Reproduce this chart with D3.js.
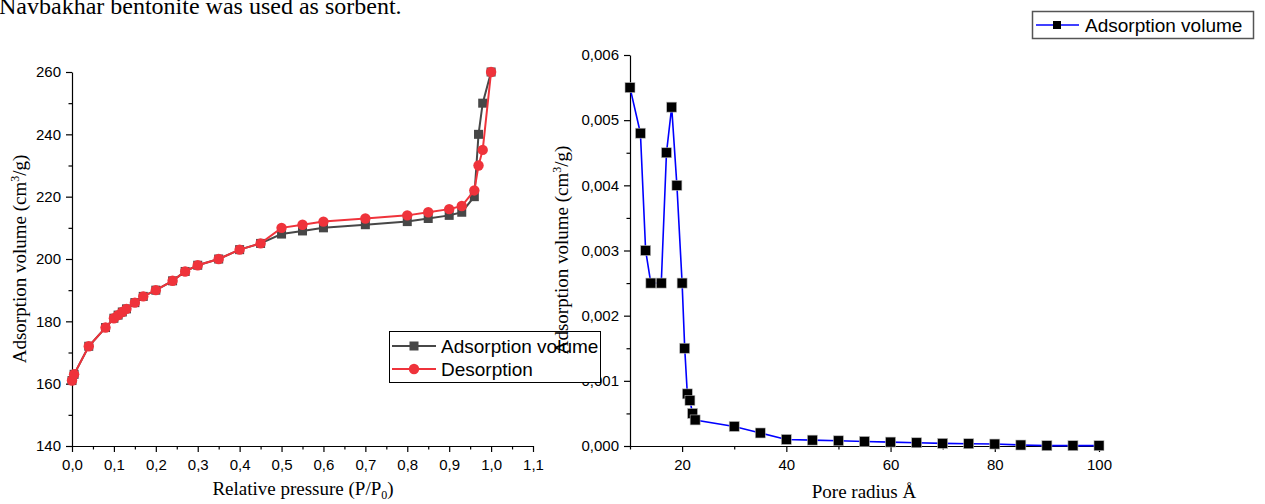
<!DOCTYPE html>
<html>
<head>
<meta charset="utf-8">
<script src="https://cdn.jsdelivr.net/npm/d3@7"></script>
<style>
  body { margin: 0; background: #fff; }
  svg { display: block; }
  .tick text { font-family: "Liberation Sans", Arial, sans-serif; font-size: 15px; fill: #000; }
  .domain, .tick line { stroke: #000; stroke-width: 1.2; }
  .title { font-family: "Liberation Serif", "Times New Roman", serif; font-size: 19px; fill: #000; }
  .leg { font-family: "Liberation Sans", Arial, sans-serif; font-size: 19px; fill: #000; }
</style>
</head>
<body>
<script>
// isotherm data (left chart)
var pressure = [0.0, 0.005, 0.04, 0.08, 0.10, 0.11, 0.12, 0.13, 0.15, 0.17, 0.20, 0.24, 0.27, 0.30, 0.35, 0.40, 0.45,
                0.50, 0.55, 0.60, 0.70, 0.80, 0.85, 0.90, 0.93, 0.96, 0.97, 0.98, 1.0];
var adsorption = [161, 163, 172, 178, 181, 182, 183, 184, 186, 188, 190, 193, 196, 198, 200, 203, 205,
                  208, 209, 210, 211, 212, 213, 214, 215, 220, 240, 250, 260];
var desorption = [161, 163, 172, 178, 181, 182, 183, 184, 186, 188, 190, 193, 196, 198, 200, 203, 205,
                  210, 211, 212, 213, 214, 215, 216, 217, 222, 230, 235, 260];

// pore distribution (right chart)
var radius = [10, 12, 13, 14, 16, 17, 18, 19, 20, 20.5, 21, 21.5, 22, 22.5, 30, 35, 40, 45, 50, 55, 60,
              65, 70, 75, 80, 85, 90, 95, 100];
var poreVolume = [0.0055, 0.0048, 0.0030, 0.0025, 0.0025, 0.0045, 0.0052, 0.0040, 0.0025, 0.0015, 0.0008, 0.0007,
                  0.0005, 0.0004, 0.0003, 0.0002, 0.0001, 0.00009, 0.00008, 0.00007, 0.00006, 0.00005, 0.00004,
                  0.000035, 0.00003, 0.000015, 0.000005, 0.000005, 0.000005];

var legendLeft = ["Adsorption volume", "Desorption"];
var legendRight = ["Adsorption volume"];

var comma = function(f) { return function(v) { return d3.format(f)(v).replace(".", ","); }; };

var svg = d3.select("body").append("svg")
    .attr("width", 1265)
    .attr("height", 504);

// caption line cut at the top
svg.append("text")
    .attr("x", -1).attr("y", 14)
    .attr("font-family", "Liberation Serif, Times New Roman, serif")
    .attr("font-size", 24)
    .text("Navbakhar bentonite was used as sorbent.");

function minorAxis(g, axis) { g.call(axis); g.selectAll("text").remove(); g.select(".domain").remove(); }

function yTitle(x, y) {
  svg.append("text").attr("class", "title")
      .attr("transform", "translate(" + x + "," + y + ") rotate(-90)")
      .attr("text-anchor", "middle")
      .call(function(t) {
        t.append("tspan").text("Adsorption volume (cm");
        t.append("tspan").attr("font-size", 12).attr("dy", -7).text("3");
        t.append("tspan").attr("dy", 7).text("/g)");
      });
}

// ---------- left chart ----------
var x1 = d3.scaleLinear().domain([0, 1.1]).range([72, 533]);
var y1 = d3.scaleLinear().domain([140, 260]).range([446, 72]);

svg.append("g").attr("transform", "translate(0,446)")
    .call(minorAxis, d3.axisBottom(x1).tickValues(d3.range(0.05, 1.1, 0.1)).tickSize(3.5));
svg.append("g").attr("transform", "translate(0,446)")
    .call(d3.axisBottom(x1).tickValues(d3.range(0, 1.11, 0.1)).tickFormat(comma(".1f")).tickSize(6).tickSizeOuter(0).tickPadding(7));
svg.append("g").attr("transform", "translate(72,0)")
    .call(minorAxis, d3.axisLeft(y1).tickValues(d3.range(150, 260, 20)).tickSize(3.5));
svg.append("g").attr("transform", "translate(72,0)")
    .call(d3.axisLeft(y1).tickValues(d3.range(140, 261, 20)).tickSize(6).tickSizeOuter(0).tickPadding(5));

var line1 = d3.line().x(function(d) { return x1(d[0]); }).y(function(d) { return y1(d[1]); });
var adsData = pressure.map(function(p, i) { return [p, adsorption[i]]; });
var desData = pressure.map(function(p, i) { return [p, desorption[i]]; });

var grey = "#474747", red = "#ef333b";
svg.append("path").datum(adsData).attr("d", line1)
    .attr("fill", "none").attr("stroke", grey).attr("stroke-width", 2);
svg.append("g").selectAll("rect").data(adsData).enter().append("rect")
    .attr("x", function(d) { return x1(d[0]) - 4.5; })
    .attr("y", function(d) { return y1(d[1]) - 4.5; })
    .attr("width", 9).attr("height", 9).attr("fill", grey);
svg.append("path").datum(desData).attr("d", line1)
    .attr("fill", "none").attr("stroke", red).attr("stroke-width", 2);
svg.append("g").selectAll("circle").data(desData).enter().append("circle")
    .attr("cx", function(d) { return x1(d[0]); })
    .attr("cy", function(d) { return y1(d[1]); })
    .attr("r", 5.2).attr("fill", red);

yTitle(26, 259);
svg.append("text").attr("class", "title")
    .attr("x", 303).attr("y", 495).attr("text-anchor", "middle")
    .call(function(t) {
      t.append("tspan").text("Relative pressure (P/P");
      t.append("tspan").attr("font-size", 12).attr("dy", 4).text("0");
      t.append("tspan").attr("dy", -4).text(")");
    });

// ---------- right chart ----------
var x2 = d3.scaleLinear().domain([10, 100]).range([630, 1099]);
var y2 = d3.scaleLinear().domain([0, 0.006]).range([446, 55]);

svg.append("g").attr("transform", "translate(0,446)")
    .call(minorAxis, d3.axisBottom(x2).tickValues(d3.range(10, 100, 20)).tickSize(3.5));
svg.append("g").attr("transform", "translate(0,446)")
    .call(d3.axisBottom(x2).tickValues(d3.range(20, 101, 20)).tickSize(6).tickSizeOuter(0).tickPadding(7));
svg.append("g").attr("transform", "translate(630,0)")
    .call(minorAxis, d3.axisLeft(y2).tickValues(d3.range(0.0005, 0.006, 0.001)).tickSize(3.5));
svg.append("g").attr("transform", "translate(630,0)")
    .call(d3.axisLeft(y2).tickValues(d3.range(0, 0.00601, 0.001)).tickFormat(comma(".3f")).tickSize(6).tickSizeOuter(0).tickPadding(5));

var poreData = radius.map(function(r, i) { return [r, poreVolume[i]]; });
var line2 = d3.line().x(function(d) { return x2(d[0]); }).y(function(d) { return y2(d[1]); });
svg.append("path").datum(poreData).attr("d", line2)
    .attr("fill", "none").attr("stroke", "#0000ff").attr("stroke-width", 1.6);
svg.append("g").selectAll("rect").data(poreData).enter().append("rect")
    .attr("x", function(d) { return x2(d[0]) - 5; })
    .attr("y", function(d) { return y2(d[1]) - 5; })
    .attr("width", 10).attr("height", 10).attr("fill", "#000")
    .attr("stroke", "#bbb").attr("stroke-width", 0.6);

svg.append("text").attr("class", "title")
    .attr("x", 864).attr("y", 498).attr("text-anchor", "middle")
    .text("Pore radius \u00C5");

// ---------- legends ----------
var lg = svg.append("g");
lg.append("rect").attr("x", 389.5).attr("y", 331.5).attr("width", 211).attr("height", 51)
    .attr("fill", "#fff").attr("stroke", "#000").attr("stroke-width", 1);
legendLeft.forEach(function(name, i) {
  var yy = 346 + i * 23, c = i === 0 ? grey : red;
  lg.append("line").attr("x1", 392).attr("x2", 436).attr("y1", yy).attr("y2", yy)
      .attr("stroke", c).attr("stroke-width", 2);
  if (i === 0) lg.append("rect").attr("x", 409.5).attr("y", yy - 4.5).attr("width", 9).attr("height", 9).attr("fill", c);
  else lg.append("circle").attr("cx", 414).attr("cy", yy).attr("r", 5.2).attr("fill", c);
  lg.append("text").attr("class", "leg").attr("x", 441).attr("y", yy + 7).text(name);
});

// right axis title drawn over the left legend box, as in the original
yTitle(568, 250);

var rg = svg.append("g");
rg.append("rect").attr("x", 1032.5).attr("y", 11.5).attr("width", 221).attr("height", 27)
    .attr("fill", "#fff").attr("stroke", "#555").attr("stroke-width", 1.5);
legendRight.forEach(function(name) {
  rg.append("line").attr("x1", 1036).attr("x2", 1079).attr("y1", 25).attr("y2", 25)
      .attr("stroke", "#0000ff").attr("stroke-width", 1.6);
  rg.append("rect").attr("x", 1053).attr("y", 21).attr("width", 8).attr("height", 8).attr("fill", "#000");
  rg.append("text").attr("class", "leg").attr("x", 1085).attr("y", 32).text(name);
});
</script>
</body>
</html>
